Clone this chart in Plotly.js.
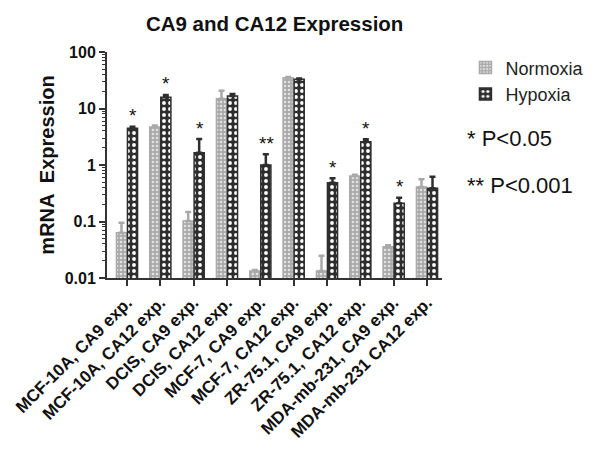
<!DOCTYPE html>
<html>
<head>
<meta charset="utf-8">
<script src="https://cdn.plot.ly/plotly-3.0.1.min.js"></script>
<style>html,body{margin:0;padding:0;background:#fff;}#chart{width:601px;height:449px;}</style>
</head>
<body>
<div id="chart"></div>
<script>
const categories = [
  "MCF-10A, CA9 exp.", "MCF-10A, CA12 exp.", "DCIS, CA9 exp.", "DCIS, CA12 exp.",
  "MCF-7, CA9 exp.", "MCF-7, CA12 exp.", "ZR-75.1, CA9 exp.", "ZR-75.1, CA12 exp.",
  "MDA-mb-231, CA9 exp.", "MDA-mb-231 CA12 exp."
];
const normoxia    = [0.063, 4.7, 0.102, 14.9, 0.0133, 35, 0.0133, 0.64, 0.0358, 0.41];
const normoxiaErr = [0.032, 0.3, 0.045, 5.7, 0.0006, 1.0, 0.0115, 0.03, 0.002, 0.15];
const hypoxia     = [4.46, 15.8, 1.65, 16.6, 1.0, 32.9, 0.486, 2.59, 0.21, 0.387];
const hypoxiaErr  = [0.3, 1.6, 1.23, 1.5, 0.55, 1.2, 0.094, 0.26, 0.053, 0.23];
const significance = ["*", "*", "*", "", "**", "", "*", "*", "*", ""];
const seriesNames = ["Normoxia", "Hypoxia"];
const yTickVals = [0.01, 0.1, 1, 10, 100];
const yTickText = ["0.01", "0.1", "1", "10", "100"];
const pLegend = ["* P<0.05", "** P<0.001"];

const xIdx = categories.map((c, i) => i);
const zeros = categories.map(() => 0);
const FONT = "Liberation Sans, Arial, sans-serif";
const gray = "#a9a9a9", dark = "#2e2e2e";

const traces = [
  {
    type: "bar", name: seriesNames[0], x: xIdx, y: normoxia,
    marker: {color: gray, line: {color: gray, width: 1.5},
      pattern: {shape: ".", bgcolor: gray, fgcolor: "#e2e2e2", size: 4, solidity: 0.35}},
    error_y: {type: "data", symmetric: false, array: normoxiaErr, arrayminus: zeros,
      color: gray, thickness: 2.5, width: 3}
  },
  {
    type: "bar", name: seriesNames[1], x: xIdx, y: hypoxia,
    marker: {color: dark, line: {color: dark, width: 1.5},
      pattern: {shape: ".", bgcolor: dark, fgcolor: "#ffffff", size: 6, solidity: 0.32, fillmode: "replace"}},
    error_y: {type: "data", symmetric: false, array: hypoxiaErr, arrayminus: zeros,
      color: dark, thickness: 2.5, width: 3}
  }
];

const minorVals = [];
for (let e = -2; e < 2; e++) for (let m = 2; m <= 9; m++) minorVals.push(m * Math.pow(10, e));

const plotL = 107, plotR = 450, plotT = 52, plotB = 278;
const pY = [138, 185];

const annotations = [];
significance.forEach((s, i) => {
  if (!s) return;
  annotations.push({
    x: i, xref: "x", y: Math.log10(hypoxia[i] + hypoxiaErr[i]), yref: "y",
    text: s, showarrow: false, xshift: 6, yshift: 11, yanchor: "middle",
    font: {family: FONT, size: 19, color: "#111"}
  });
});
pLegend.forEach((t, k) => {
  annotations.push({
    x: (474 - plotL) / (plotR - plotL), xref: "paper",
    y: (plotB - pY[k]) / (plotB - plotT), yref: "paper",
    text: t, showarrow: false, xanchor: "left", yanchor: "middle",
    font: {family: FONT, size: 22, color: "#111"}
  });
});

const layout = {
  width: 601, height: 449,
  margin: {l: plotL, r: 601 - plotR, t: plotT, b: 449 - plotB},
  paper_bgcolor: "#fff", plot_bgcolor: "#fff",
  title: {text: "<b>CA9 and CA12 Expression</b>", x: 0.457, xanchor: "center", y: 0.947, yanchor: "middle",
    font: {family: FONT, size: 20.5, color: "#111"}},
  barmode: "group", bargap: 0.34, bargroupgap: 0.08,
  showlegend: true,
  legend: {x: 1.07, y: 1.012, xanchor: "left", yanchor: "top", font: {family: FONT, size: 18, color: "#222"},
    bgcolor: "rgba(0,0,0,0)", tracegroupgap: 0, itemwidth: 30},
  xaxis: {
    range: [-0.6, 9.45], tickmode: "array", tickvals: xIdx, ticktext: categories.map(c => "<b>" + c + "</b>"),
    tickangle: -45, ticks: "outside", ticklen: 6, tickwidth: 2, tickcolor: "#333",
    showline: true, linecolor: "#333", linewidth: 2, showgrid: false, zeroline: false,
    tickfont: {family: FONT, size: 17, color: "#111"}, fixedrange: true
  },
  yaxis: {
    type: "log", range: [-2, 2], tickmode: "array", tickvals: yTickVals,
    ticktext: yTickText.map(t => "<b>" + t + "</b>"),
    ticks: "outside", ticklen: 6, tickwidth: 2, tickcolor: "#333",
    minor: {tickmode: "array", tickvals: minorVals, ticks: "outside", ticklen: 3, tickwidth: 1, tickcolor: "#333", showgrid: false},
    showline: true, linecolor: "#333", linewidth: 2, showgrid: false, zeroline: false,
    tickfont: {family: FONT, size: 16, color: "#111"},
    title: {text: "<b>mRNA  Expression</b>", font: {family: FONT, size: 20, color: "#111"}, standoff: 5}
  },
  annotations: annotations
};

Plotly.newPlot("chart", traces, layout, {displayModeBar: false, staticPlot: true});
</script>
</body>
</html>
